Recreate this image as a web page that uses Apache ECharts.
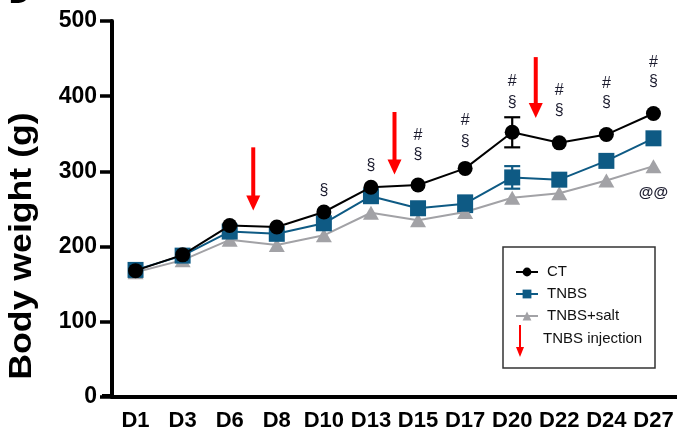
<!DOCTYPE html>
<html>
<head>
<meta charset="utf-8">
<script src="https://cdn.jsdelivr.net/npm/echarts@6/dist/echarts.min.js"></script>
<style>
html,body{margin:0;padding:0;background:#fff;}
#c{width:677px;height:435px;}
</style>
</head>
<body>
<div id="c"></div>
<script>
// ---- data ----
var days = ['D1','D3','D6','D8','D10','D13','D15','D17','D20','D22','D24','D27'];
var ctValues   = [168,189,228,226,246,279,282,304,352,338,349,377];
var tnbsValues = [169,188,220,217,231,267,251,257,292,289,314,344];
var saltValues = [166,182,209,202,215,245,235,246,265,271,288,307];
// error bars (SEM); 0 where the bar is hidden by the marker
var ctErr   = [0,0,0,0,0,0,0,0,20,0,0,0];
var tnbsErr = [0,0,0,0,0,0,0,11,15,0,0,0];
var saltErr = [0,0,0,0,0,0,0,0,0,0,0,0];
var yTicks = [0,100,200,300,400,500];
// TNBS injection arrows: placed between day and next day, tail value -> tip value
var arrowAfterDay = ['D6','D13','D20'];
var arrowTail = [332,379,452];
var arrowTip  = [248,296,371];
// significance annotations
var annotDays   = ['D10','D13','D15','D15','D17','D17','D20','D20','D22','D22','D24','D24','D27','D27','D27'];
var annotValues = [275,308,348,322,368,340,420,392,408,381,417,391,445,419,272];
var annotTexts  = ['§','§','#','§','#','§','#','§','#','§','#','§','#','§','@@'];

var BLUE = '#0e5a84', GRAY = '#a2a2a6', RED = '#ff0000';
var FONT = '"Liberation Sans", Arial, sans-serif';

function errData(vals, errs){
  return vals.map(function(v,i){ return [i, v, errs[i]]; });
}
function errSeries(name, vals, errs, color){
  return {
    type:'custom', name: name + ' err', silent:true, z:1,
    data: errData(vals, errs),
    renderItem: function(params, api){
      var i = api.value(0), v = api.value(1), e = api.value(2);
      if (!e) return null;
      var top = api.coord([i, v+e]), bot = api.coord([i, v-e]);
      var hw = 8;
      var st = {stroke: color, lineWidth: 2.2};
      return {type:'group', children:[
        {type:'line', shape:{x1:top[0],y1:top[1],x2:bot[0],y2:bot[1]}, style:st},
        {type:'line', shape:{x1:top[0]-hw,y1:top[1],x2:top[0]+hw,y2:top[1]}, style:st},
        {type:'line', shape:{x1:bot[0]-hw,y1:bot[1],x2:bot[0]+hw,y2:bot[1]}, style:st}
      ]};
    }
  };
}

var chart = echarts.init(document.getElementById('c'), null, {renderer:'canvas'});
var option = {
  animation:false,
  backgroundColor:'#fff',
  grid:{left:112, right:0, top:21, bottom:38, containLabel:false},
  xAxis:{
    type:'category', data: days, boundaryGap:true,
    axisLine:{lineStyle:{color:'#000', width:4}},
    axisTick:{alignWithLabel:true, length:7, lineStyle:{color:'#000', width:3.5}},
    axisLabel:{color:'#000', fontWeight:'bold', fontSize:22, fontFamily:FONT, margin:13, interval:0}
  },
  yAxis:{
    type:'value', min:yTicks[0], max:yTicks[yTicks.length-1], interval:100,
    axisLine:{show:true, lineStyle:{color:'#000', width:4}},
    axisTick:{show:true, length:12, lineStyle:{color:'#000', width:3.5}},
    axisLabel:{color:'#000', fontWeight:'bold', fontSize:23, fontFamily:FONT, margin:15},
    splitLine:{show:false}
  },
  legend:{
    orient:'vertical', left:510, top:259,
    itemWidth:22, itemHeight:11, itemGap:6,
    data:['CT','TNBS','TNBS+salt'],
    textStyle:{fontFamily:FONT, fontSize:15, color:'#111', lineHeight:16, padding:[0,0,0,4]}
  },
  series:[
    errSeries('CT', ctValues, ctErr, '#000'),
    errSeries('TNBS', tnbsValues, tnbsErr, BLUE),
    errSeries('TNBS+salt', saltValues, saltErr, GRAY),
    {type:'line', name:'TNBS+salt', data:saltValues, z:3,
     symbol:'triangle', symbolSize:[16,14],
     lineStyle:{color:GRAY, width:2}, itemStyle:{color:GRAY}},
    {type:'line', name:'TNBS', data:tnbsValues, z:4,
     symbol:'rect', symbolSize:16,
     lineStyle:{color:BLUE, width:2}, itemStyle:{color:BLUE}},
    {type:'line', name:'CT', data:ctValues, z:5,
     symbol:'circle', symbolSize:15,
     lineStyle:{color:'#000', width:2}, itemStyle:{color:'#000'}},
    {type:'custom', name:'TNBS injection', silent:true, z:6,
     data: arrowAfterDay.map(function(d,k){ return [days.indexOf(d), arrowTail[k], arrowTip[k]]; }),
     renderItem: function(params, api){
       var i = api.value(0);
       var a = api.coord([i, api.value(1)]), b = api.coord([i+1, api.value(1)]);
       var x = (a[0]+b[0])/2;
       var yTail = a[1];
       var yTip = api.coord([i, api.value(2)])[1];
       var headL = 15, headW = 7;
       return {type:'group', children:[
         {type:'line', shape:{x1:x,y1:yTail,x2:x,y2:yTip-headL+2}, style:{stroke:RED, lineWidth:4}},
         {type:'polygon', shape:{points:[[x-headW,yTip-headL],[x+headW,yTip-headL],[x,yTip]]}, style:{fill:RED}}
       ]};
     }},
    {type:'custom', name:'annot', silent:true, z:7,
     data: annotDays.map(function(d,k){ return [days.indexOf(d), annotValues[k], annotTexts[k]]; }),
     renderItem: function(params, api){
       var p = api.coord([api.value(0), api.value(1)]);
       var t = annotTexts[params.dataIndex];
       var isAt = t === '@@';
       return {type:'text', x:p[0], y:p[1], style:{
         text:t, fill:'#1b1b2e', align:'center', verticalAlign:'middle',
         font: isAt ? ('bold 15px ' + FONT) : ('16px ' + FONT)
       }};
     }}
  ],
  graphic:[
    {type:'text', left:9, top:-19, style:{text:'D', font:'bold 28px '+FONT, fill:'#000'}},
    {type:'text', x:22, y:246, rotation:Math.PI/2, scaleX:1.15,
     style:{text:'Body weight (g)', font:'bold 31px '+FONT, fill:'#000', align:'center', verticalAlign:'middle'}},
    {type:'line', shape:{x1:102, y1:396, x2:112, y2:396}, style:{stroke:'#000', lineWidth:4}},
    {type:'rect', shape:{x:503, y:247, width:152, height:121}, style:{fill:'none', stroke:'#333', lineWidth:1.5}, z:10},
    {type:'line', shape:{x1:520, y1:325, x2:520, y2:348}, style:{stroke:RED, lineWidth:2}, z:10},
    {type:'polygon', shape:{points:[[516,347],[524,347],[520,357]]}, style:{fill:RED}, z:10},
    {type:'text', x:543, y:339, style:{text:'TNBS injection', font:'15px '+FONT, fill:'#111', verticalAlign:'middle'}, z:10}
  ]
};
chart.setOption(option);
</script>
</body>
</html>
